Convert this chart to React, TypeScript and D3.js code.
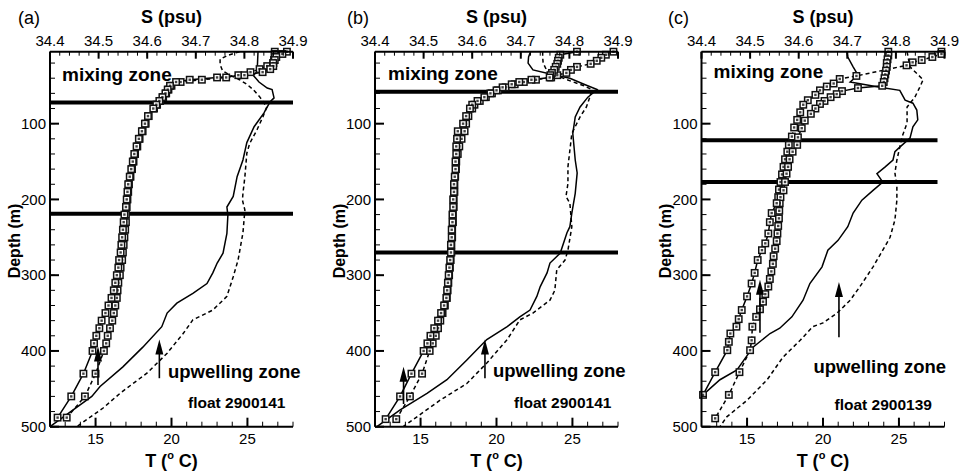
import React from 'react';
import * as d3 from 'd3';

const W = 964;
const H = 476;
const PLOT_W = 243;
const PLOT_TOP = 51.7;
const PLOT_BOTTOM = 426.7;
const FONT = "'Liberation Sans', Arial, Helvetica, sans-serif";

const depthDomain = [5, 500];
const tempDomain = [12, 28];
const salDomain = [34.4, 34.9];
const salTicks = [34.4, 34.5, 34.6, 34.7, 34.8, 34.9];
const tempTicks = [15, 20, 25];
const depthTicks = [100, 200, 300, 400, 500];

// ---------- Panel (a), float 2900141 ----------
const aTempDepth = [5, 8, 12, 16, 20, 24, 28, 32, 36, 39, 42, 45, 50, 55, 60, 65, 70, 75, 80, 90, 100, 110, 120, 130, 140, 150, 160, 170, 180, 190, 200, 210, 220, 230, 240, 250, 260, 270, 280, 290, 300, 310, 320, 330, 340, 350, 360, 370, 380, 390, 400, 430, 460, 488];
const aTempSolid = [27.6, 27.3, 26.9, 26.8, 26.7, 26.7, 26.5, 26.0, 24.8, 23.0, 21.2, 20.3, 19.9, 19.75, 19.6, 19.4, 19.2, 19.0, 18.8, 18.45, 18.25, 18.05, 17.85, 17.7, 17.55, 17.45, 17.35, 17.25, 17.15, 17.1, 17.05, 17.0, 16.9, 16.85, 16.8, 16.75, 16.7, 16.65, 16.55, 16.5, 16.4, 16.3, 16.2, 16.05, 15.85, 15.65, 15.4, 15.25, 15.05, 14.9, 14.8, 14.2, 13.4, 12.5];
const aTempDashed = [26.8, 26.8, 26.8, 26.75, 26.7, 26.3, 25.8, 25.2, 24.4, 23.6, 22.0, 20.6, 20.0, 19.8, 19.65, 19.45, 19.25, 19.05, 18.85, 18.5, 18.3, 18.1, 17.9, 17.75, 17.6, 17.5, 17.4, 17.3, 17.2, 17.15, 17.1, 17.05, 17.0, 17.0, 16.95, 16.9, 16.85, 16.8, 16.75, 16.65, 16.6, 16.5, 16.45, 16.4, 16.3, 16.2, 16.1, 15.95, 15.8, 15.7, 15.55, 15.0, 14.3, 13.1];
const aSalSolidDepth = [5, 20, 32, 36, 45, 53, 55, 66, 71, 86, 104, 125, 148, 170, 196, 210, 221, 245, 271, 284, 297, 311, 324, 337, 350, 368, 395, 421, 447, 460, 500];
const aSalSolid = [34.828, 34.827, 34.826, 34.818, 34.83, 34.847, 34.857, 34.861, 34.853, 34.84, 34.82, 34.805, 34.797, 34.785, 34.777, 34.764, 34.766, 34.764, 34.756, 34.744, 34.735, 34.723, 34.694, 34.661, 34.641, 34.63, 34.591, 34.55, 34.503, 34.486, 34.4];
const aSalDashedDepth = [5, 10, 15, 22, 30, 36, 42, 48, 55, 65, 78, 91, 108, 126, 139, 170, 192, 201, 214, 244, 280, 302, 328, 346, 359, 377, 403, 429, 456, 475, 500];
const aSalDashed = [34.79, 34.765, 34.75, 34.75, 34.755, 34.77, 34.79, 34.805, 34.818, 34.832, 34.846, 34.838, 34.826, 34.811, 34.805, 34.801, 34.797, 34.796, 34.801, 34.797, 34.787, 34.777, 34.764, 34.735, 34.694, 34.674, 34.641, 34.6, 34.544, 34.51, 34.455];
const aMixedLayers = [72, 219];
const aArrowT = [15.16, 19.2];
const aArrowTop = [394, 385];
const aArrowBottom = [445, 436];

// ---------- Panel (b), float 2900141 ----------
const bTempDepth = [5, 9, 13, 17, 21, 25, 29, 33, 36, 39, 42, 45, 48, 52, 56, 60, 65, 70, 75, 80, 90, 100, 110, 120, 130, 140, 150, 160, 170, 180, 190, 200, 210, 220, 230, 240, 250, 260, 270, 280, 290, 300, 310, 320, 330, 340, 350, 360, 370, 380, 390, 400, 430, 460, 490];
const bTempSolid = [25.3, 24.2, 24.1, 24.05, 24.0, 23.9, 23.8, 23.65, 23.55, 23.5, 22.3, 21.5, 21.0, 20.4, 20.0, 19.6, 19.2, 18.75, 18.4, 18.25, 18.0, 17.8, 17.45, 17.4, 17.35, 17.35, 17.3, 17.3, 17.25, 17.2, 17.2, 17.15, 17.15, 17.1, 17.1, 17.05, 17.05, 17.0, 17.0, 16.95, 16.9, 16.85, 16.8, 16.75, 16.7, 16.55, 16.35, 16.15, 15.9, 15.65, 15.45, 15.2, 14.4, 13.65, 12.7];
const bTempDashed = [27.7, 27.2, 26.9, 26.6, 26.2, 25.3, 24.9, 24.6, 24.0, 23.6, 22.6, 21.8, 21.2, 20.6, 20.1, 19.7, 19.3, 18.9, 18.55, 18.4, 18.15, 18.0, 17.9, 17.7, 17.55, 17.45, 17.35, 17.33, 17.28, 17.23, 17.23, 17.18, 17.18, 17.13, 17.13, 17.08, 17.08, 17.03, 17.03, 16.98, 16.93, 16.88, 16.83, 16.78, 16.73, 16.6, 16.45, 16.3, 16.15, 16.0, 15.8, 15.6, 15.1, 14.3, 13.4];
const bSalSolidDepth = [5, 12, 20, 29, 35, 40, 48, 55, 65, 78, 91, 113, 148, 165, 192, 218, 236, 244, 271, 284, 297, 315, 328, 346, 355, 368, 385, 412, 438, 456, 478, 500];
const bSalSolid = [34.72, 34.716, 34.715, 34.725, 34.765, 34.801, 34.83, 34.857, 34.838, 34.822, 34.812, 34.807, 34.812, 34.816, 34.812, 34.805, 34.801, 34.795, 34.781, 34.76, 34.754, 34.74, 34.733, 34.719, 34.698, 34.672, 34.63, 34.589, 34.548, 34.507, 34.451, 34.404];
const bSalDashedDepth = [5, 12, 20, 28, 33, 42, 50, 55, 65, 78, 91, 113, 135, 157, 179, 196, 205, 236, 267, 280, 293, 320, 333, 350, 359, 385, 416, 443, 465, 500];
const bSalDashed = [34.745, 34.745, 34.746, 34.752, 34.76, 34.795, 34.83, 34.846, 34.842, 34.835, 34.822, 34.805, 34.801, 34.797, 34.797, 34.793, 34.801, 34.805, 34.797, 34.791, 34.774, 34.77, 34.76, 34.725, 34.698, 34.672, 34.63, 34.589, 34.534, 34.458];
const bMixedLayers = [58, 270];
const bArrowT = [13.88, 19.24];
const bArrowTop = [421, 385];
const bArrowBottom = [470, 436];

// ---------- Panel (c), float 2900139 ----------
const cTempSolidDepth = [5, 10, 15, 20, 25, 30, 35, 40, 45, 50, 53, 57, 61, 65, 70, 74, 80, 87, 96, 106, 118, 128, 137, 147, 157, 166, 177, 188, 197, 205, 218, 230, 245, 258, 267, 280, 297, 311, 328, 346, 358, 368, 377, 388, 399, 428, 458];
const cTempSolid = [24.3, 24.3, 24.25, 24.2, 24.2, 24.15, 24.1, 24.05, 24.0, 23.9, 22.3, 21.25, 20.9, 20.5, 20.1, 19.8, 19.5, 19.2, 18.8, 18.6, 18.35, 18.3, 18.0, 17.8, 17.7, 17.6, 17.5, 17.4, 17.2, 16.95, 16.62, 16.5, 16.4, 16.2, 15.98, 15.7, 15.5, 15.3, 15.0, 14.65, 14.45, 14.3, 13.9, 13.8, 13.7, 12.9, 12.1];
const cTempDashedDepth = [5, 8, 12, 16, 19, 23, 37, 41, 47, 51, 56, 62, 69, 75, 85, 95, 105, 117, 128, 137, 147, 157, 167, 177, 187, 197, 205, 215, 225, 235, 245, 255, 265, 275, 285, 295, 305, 315, 325, 335, 345, 355, 368, 386, 399, 428, 458, 489];
const cTempDashed = [27.8, 27.8, 27.2, 26.5, 25.9, 25.5, 22.2, 21.1, 20.7, 20.25, 19.8, 19.5, 19.0, 18.7, 18.5, 18.3, 18.1, 17.95, 17.75, 17.65, 17.5, 17.4, 17.3, 17.2, 17.1, 17.05, 17.15, 17.12, 17.1, 17.05, 17.0, 16.95, 16.85, 16.75, 16.7, 16.6, 16.5, 16.4, 16.2, 16.05, 15.85, 15.6, 15.35, 15.3, 15.2, 14.5, 13.8, 12.9];
const cSalSolidDepth = [5, 12, 25, 36, 45, 52, 56, 69, 73, 82, 95, 104, 119, 131, 137, 148, 157, 166, 177, 188, 201, 218, 236, 254, 267, 289, 311, 333, 355, 370, 377, 395, 425, 438, 458];
const cSalSolid = [34.699, 34.701, 34.712, 34.722, 34.706, 34.767, 34.808, 34.819, 34.835, 34.843, 34.845, 34.835, 34.829, 34.808, 34.798, 34.794, 34.778, 34.761, 34.773, 34.753, 34.73, 34.712, 34.701, 34.681, 34.66, 34.648, 34.623, 34.609, 34.586, 34.561, 34.541, 34.506, 34.473, 34.438, 34.403];
const cSalDashedDepth = [5, 25, 42, 52, 65, 78, 99, 117, 131, 148, 165, 183, 201, 227, 250, 267, 289, 315, 333, 350, 363, 368, 386, 408, 438, 465, 487, 500];
const cSalDashed = [34.823, 34.829, 34.856, 34.849, 34.839, 34.823, 34.823, 34.813, 34.808, 34.802, 34.798, 34.802, 34.802, 34.798, 34.788, 34.773, 34.753, 34.726, 34.706, 34.679, 34.65, 34.629, 34.603, 34.568, 34.535, 34.494, 34.452, 34.438];
const cMixedLayers = [122, 177];
const cArrowT = [15.85, 21.05];
const cArrowTop = [306, 309];
const cArrowBottom = [376, 382];

const zip = (d: number[], v: number[]) => d.map((dd, i) => [dd, v[i]] as [number, number]);

const panels = [
  {
    key: 'a', left: 50, tag: '(a)', tagDx: -32, float: 'float 2900141',
    tempSolid: zip(aTempDepth, aTempSolid), tempDashed: zip(aTempDepth, aTempDashed),
    salSolid: zip(aSalSolidDepth, aSalSolid), salDashed: zip(aSalDashedDepth, aSalDashed),
    layers: aMixedLayers, layerEnd: 243, arrowT: aArrowT, arrowTop: aArrowTop, arrowBottom: aArrowBottom,
    upX: 118, upY: 378, floatX: 138, floatY: 408, mixX: 12, mixY: 81,
  },
  {
    key: 'b', left: 375, tag: '(b)', tagDx: -28, float: 'float 2900141',
    tempSolid: zip(bTempDepth, bTempSolid), tempDashed: zip(bTempDepth, bTempDashed),
    salSolid: zip(bSalSolidDepth, bSalSolid), salDashed: zip(bSalDashedDepth, bSalDashed),
    layers: bMixedLayers, layerEnd: 243, arrowT: bArrowT, arrowTop: bArrowTop, arrowBottom: bArrowBottom,
    upX: 118, upY: 377, floatX: 139, floatY: 408, mixX: 13, mixY: 80,
  },
  {
    key: 'c', left: 701.5, tag: '(c)', tagDx: -33.5, float: 'float 2900139',
    tempSolid: zip(cTempSolidDepth, cTempSolid), tempDashed: zip(cTempDashedDepth, cTempDashed),
    salSolid: zip(cSalSolidDepth, cSalSolid), salDashed: zip(cSalDashedDepth, cSalDashed),
    layers: cMixedLayers, layerEnd: 236, arrowT: cArrowT, arrowTop: cArrowTop, arrowBottom: cArrowBottom,
    upX: 112, upY: 373, floatX: 133, floatY: 410, mixX: 12, mixY: 78,
  },
];

function Panel({ p }: { p: any }) {
  const x0 = p.left;
  const x1 = p.left + PLOT_W;
  const xT = d3.scaleLinear().domain(tempDomain).range([x0, x1]);
  const xS = d3.scaleLinear().domain(salDomain).range([x0, x1]);
  const y = d3.scaleLinear().domain(depthDomain).range([PLOT_TOP, PLOT_BOTTOM]);
  const lineT = d3.line<[number, number]>().x((d) => xT(d[1])).y((d) => y(d[0]));
  const lineS = d3.line<[number, number]>().x((d) => xS(d[1])).y((d) => y(d[0]));
  const cx = (x0 + x1) / 2;
  const sMinor = xS.ticks(25);
  const tMinor = xT.ticks(16);
  const dMinor = y.ticks(25);

  const marker = (d: [number, number], i: number, k: string) => {
    const mx = xT(d[1]);
    const my = y(d[0]);
    return (
      <g key={k + i}>
        <rect x={mx - 3.2} y={my - 3.2} width={6.4} height={6.4} fill="#fff" stroke="#111" strokeWidth={1.5} />
        <rect x={mx - 1.2} y={my - 1.2} width={2.4} height={2.4} fill="#444" />
      </g>
    );
  };

  return (
    <g>
      {p.layers.map((d: number, i: number) => (
        <line key={'L' + i} x1={x0} x2={x0 + p.layerEnd} y1={y(d)} y2={y(d)} stroke="#000" strokeWidth={4} />
      ))}
      <path d={lineS(p.salSolid) || ''} fill="none" stroke="#000" strokeWidth={1.5} />
      <path d={lineS(p.salDashed) || ''} fill="none" stroke="#000" strokeWidth={1.5} strokeDasharray="4,3" />
      <path d={lineT(p.tempSolid) || ''} fill="none" stroke="#000" strokeWidth={1.5} />
      <path d={lineT(p.tempDashed) || ''} fill="none" stroke="#000" strokeWidth={1.5} strokeDasharray="4,3" />
      {p.tempDashed.map((d: [number, number], i: number) => marker(d, i, 'md'))}
      {p.tempSolid.map((d: [number, number], i: number) => marker(d, i, 'ms'))}

      {p.arrowT.map((t: number, i: number) => {
        const ax = xT(t);
        const yt = y(p.arrowTop[i]);
        const yb = y(p.arrowBottom[i]);
        return (
          <g key={'A' + i}>
            <line x1={ax} x2={ax} y1={yb} y2={yt + 10} stroke="#000" strokeWidth={1.6} />
            <path d={`M${ax},${yt} L${ax - 4},${yt + 15} L${ax + 4},${yt + 15} Z`} fill="#000" />
          </g>
        );
      })}

      <line x1={x0} x2={x1} y1={PLOT_TOP} y2={PLOT_TOP} stroke="#000" strokeWidth={2} />
      <line x1={x0} x2={x1} y1={PLOT_BOTTOM} y2={PLOT_BOTTOM} stroke="#000" strokeWidth={2} />
      <line x1={x0} x2={x0} y1={PLOT_TOP} y2={PLOT_BOTTOM} stroke="#000" strokeWidth={2} />
      {sMinor.map((s, i) => (
        <line key={'sm' + i} x1={xS(s)} x2={xS(s)} y1={PLOT_TOP} y2={PLOT_TOP + 4} stroke="#000" strokeWidth={1} />
      ))}
      {salTicks.map((s, i) => (
        <g key={'sM' + i}>
          <line x1={xS(s)} x2={xS(s)} y1={PLOT_TOP} y2={PLOT_TOP + 7} stroke="#000" strokeWidth={2} />
          <text x={xS(s)} y={46} textAnchor="middle" fontSize={15} fontFamily={FONT}>{s.toFixed(1)}</text>
        </g>
      ))}
      {tMinor.map((t, i) => (
        <line key={'tm' + i} x1={xT(t)} x2={xT(t)} y1={PLOT_BOTTOM} y2={PLOT_BOTTOM - 5} stroke="#000" strokeWidth={1} />
      ))}
      {tempTicks.map((t, i) => (
        <g key={'tM' + i}>
          <line x1={xT(t)} x2={xT(t)} y1={PLOT_BOTTOM} y2={PLOT_BOTTOM - 9} stroke="#000" strokeWidth={2} />
          <text x={xT(t)} y={444} textAnchor="middle" fontSize={15} fontFamily={FONT}>{t}</text>
        </g>
      ))}
      {dMinor.map((d, i) => (
        <line key={'dm' + i} x1={x0} x2={x0 + 5} y1={y(d)} y2={y(d)} stroke="#000" strokeWidth={1} />
      ))}
      {depthTicks.map((d, i) => (
        <g key={'dM' + i}>
          <line x1={x0} x2={x0 + 9} y1={y(d)} y2={y(d)} stroke="#000" strokeWidth={2} />
          <text x={x0 - 4} y={y(d)} dy="0.35em" textAnchor="end" fontSize={15} fontFamily={FONT}>{d}</text>
        </g>
      ))}

      <text x={x0 + p.tagDx} y={24} fontSize={18} fontFamily={FONT}>{p.tag}</text>
      <text x={cx} y={23} textAnchor="middle" fontSize={18} fontWeight="bold" fontFamily={FONT}>S (psu)</text>
      <text x={cx} y={467} textAnchor="middle" fontSize={18} fontWeight="bold" fontFamily={FONT}>
        T (<tspan fontSize={11} dy={-8}>o</tspan><tspan dy={8}> C)</tspan>
      </text>
      <text transform={`translate(${x0 - 36},241) rotate(-90)`} dy="0.35em" textAnchor="middle" fontSize={16} fontWeight="bold" fontFamily={FONT}>Depth (m)</text>

      <text x={x0 + p.mixX} y={p.mixY} fontSize={19} fontWeight="bold" fontFamily={FONT}>mixing zone</text>
      <text x={x0 + p.upX} y={p.upY} fontSize={18.5} fontWeight="bold" fontFamily={FONT}>upwelling zone</text>
      <text x={x0 + p.floatX} y={p.floatY} fontSize={15.5} fontWeight="bold" fontFamily={FONT}>{p.float}</text>
    </g>
  );
}

export default function App() {
  return (
    <svg width={W} height={H} style={{ position: 'absolute', left: 0, top: 0, background: '#fff' }}>
      <rect x={0} y={0} width={W} height={H} fill="#fff" />
      {panels.map((p) => (
        <Panel key={p.key} p={p} />
      ))}
    </svg>
  );
}
